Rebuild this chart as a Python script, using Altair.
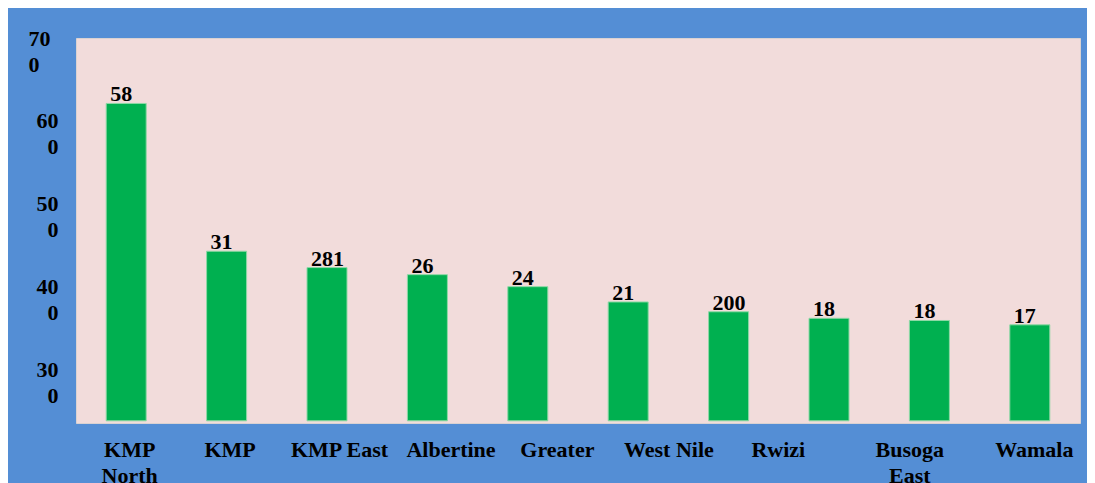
import altair as alt
import pandas as pd

# ---- data ----
bar_index = [0, 1, 2, 3, 4, 5, 6, 7, 8, 9]
bar_values = [582, 311, 281, 268, 246, 218, 200, 188, 184, 176]
bar_labels = ["58", "31", "281", "26", "24", "21", "200", "18", "18", "17"]

x_label_names = ["KMP|North", "KMP", "KMP East", "Albertine", "Greater",
                 "West Nile", "Rwizi", "Busoga|East", "Wamala"]
x_label_pos = [0.03, 1.03, 2.12, 3.23, 4.29, 5.40, 6.49, 7.80, 9.04]

y_tick_values = [700, 600, 500, 400, 300]
y_tick_labels = ["70|0", "60|0", "50|0", "40|0", "30|0"]

BLUE = "#548ED5"
PINK = "#F2DCDB"
GREEN = "#00B050"
FONT = "Liberation Serif"


def lines(s):
    return "[" + ",".join("'" + p + "'" for p in s.split("|")) + "]"


x_expr = " : ".join(
    f"abs(datum.value - {p}) < 0.001 ? {lines(n)}" for p, n in zip(x_label_pos, x_label_names)
) + " : ''"
y_expr = " : ".join(
    f"datum.value == {v} ? {lines(t)}" for v, t in zip(y_tick_values, y_tick_labels)
) + " : ''"

bars_df = pd.DataFrame({"idx": bar_index, "value": bar_values, "label": bar_labels})
ticks_df = pd.DataFrame({"tick": y_tick_values})

x_scale = alt.Scale(domain=[-0.5, 9.5], nice=False, zero=False, padding=0)
y_scale = alt.Scale(domain=[-4, 702], nice=False, padding=0)

x_axis = alt.Axis(
    values=x_label_pos, labelExpr=x_expr, title=None, grid=False, domain=False,
    ticks=False, labelFont=FONT, labelFontSize=22, labelFontWeight="bold",
    labelColor="black", labelBaseline="alphabetic", labelPadding=33,
    labelLineHeight=26, labelFlush=False, labelOverlap=False, labelAlign="center",
)

bars = alt.Chart(bars_df).mark_bar(
    width=40, color=GREEN, stroke="#8fd8a6", strokeWidth=1
).encode(
    x=alt.X("idx:Q", scale=x_scale, axis=x_axis),
    y=alt.Y("value:Q", scale=y_scale, axis=None),
)

texts = alt.Chart(bars_df).mark_text(
    align="left", baseline="alphabetic", dx=-16, dy=-2,
    font=FONT, fontSize=22, fontWeight="bold", color="black",
).encode(
    x=alt.X("idx:Q", scale=x_scale),
    y=alt.Y("value:Q", scale=y_scale, axis=None),
    text="label:N",
)

y_axis = alt.Axis(
    orient="left", values=y_tick_values, labelExpr=y_expr, title=None,
    grid=False, domain=False, ticks=False, labelFont=FONT, labelFontSize=22,
    labelFontWeight="bold", labelColor="black", labelBaseline="alphabetic",
    labelLineHeight=26, labelFlush=False, labelOverlap=False,
    labelAlign=alt.condition("datum.value == 700", alt.value("left"), alt.value("right")),
    labelPadding=alt.condition("datum.value == 700", alt.value(48), alt.value(18)),
)

tick_layer = alt.Chart(ticks_df).mark_point(opacity=0).encode(
    x=alt.value(0),
    y=alt.Y("tick:Q", scale=alt.Scale(domain=[244, 708.5], nice=False, zero=False), axis=y_axis),
)

chart = alt.layer(bars, texts, tick_layer).resolve_scale(
    y="independent"
).properties(
    width=1004, height=385,
    background=BLUE,
    padding={"left": 68, "top": 30, "right": 7, "bottom": 60},
    autosize=alt.AutoSizeParams(type="none"),
).configure_view(
    fill=PINK, stroke="#d9d2d2", strokeWidth=1
)

chart.save("out.html", embed_options={"renderer": "svg", "actions": False})
